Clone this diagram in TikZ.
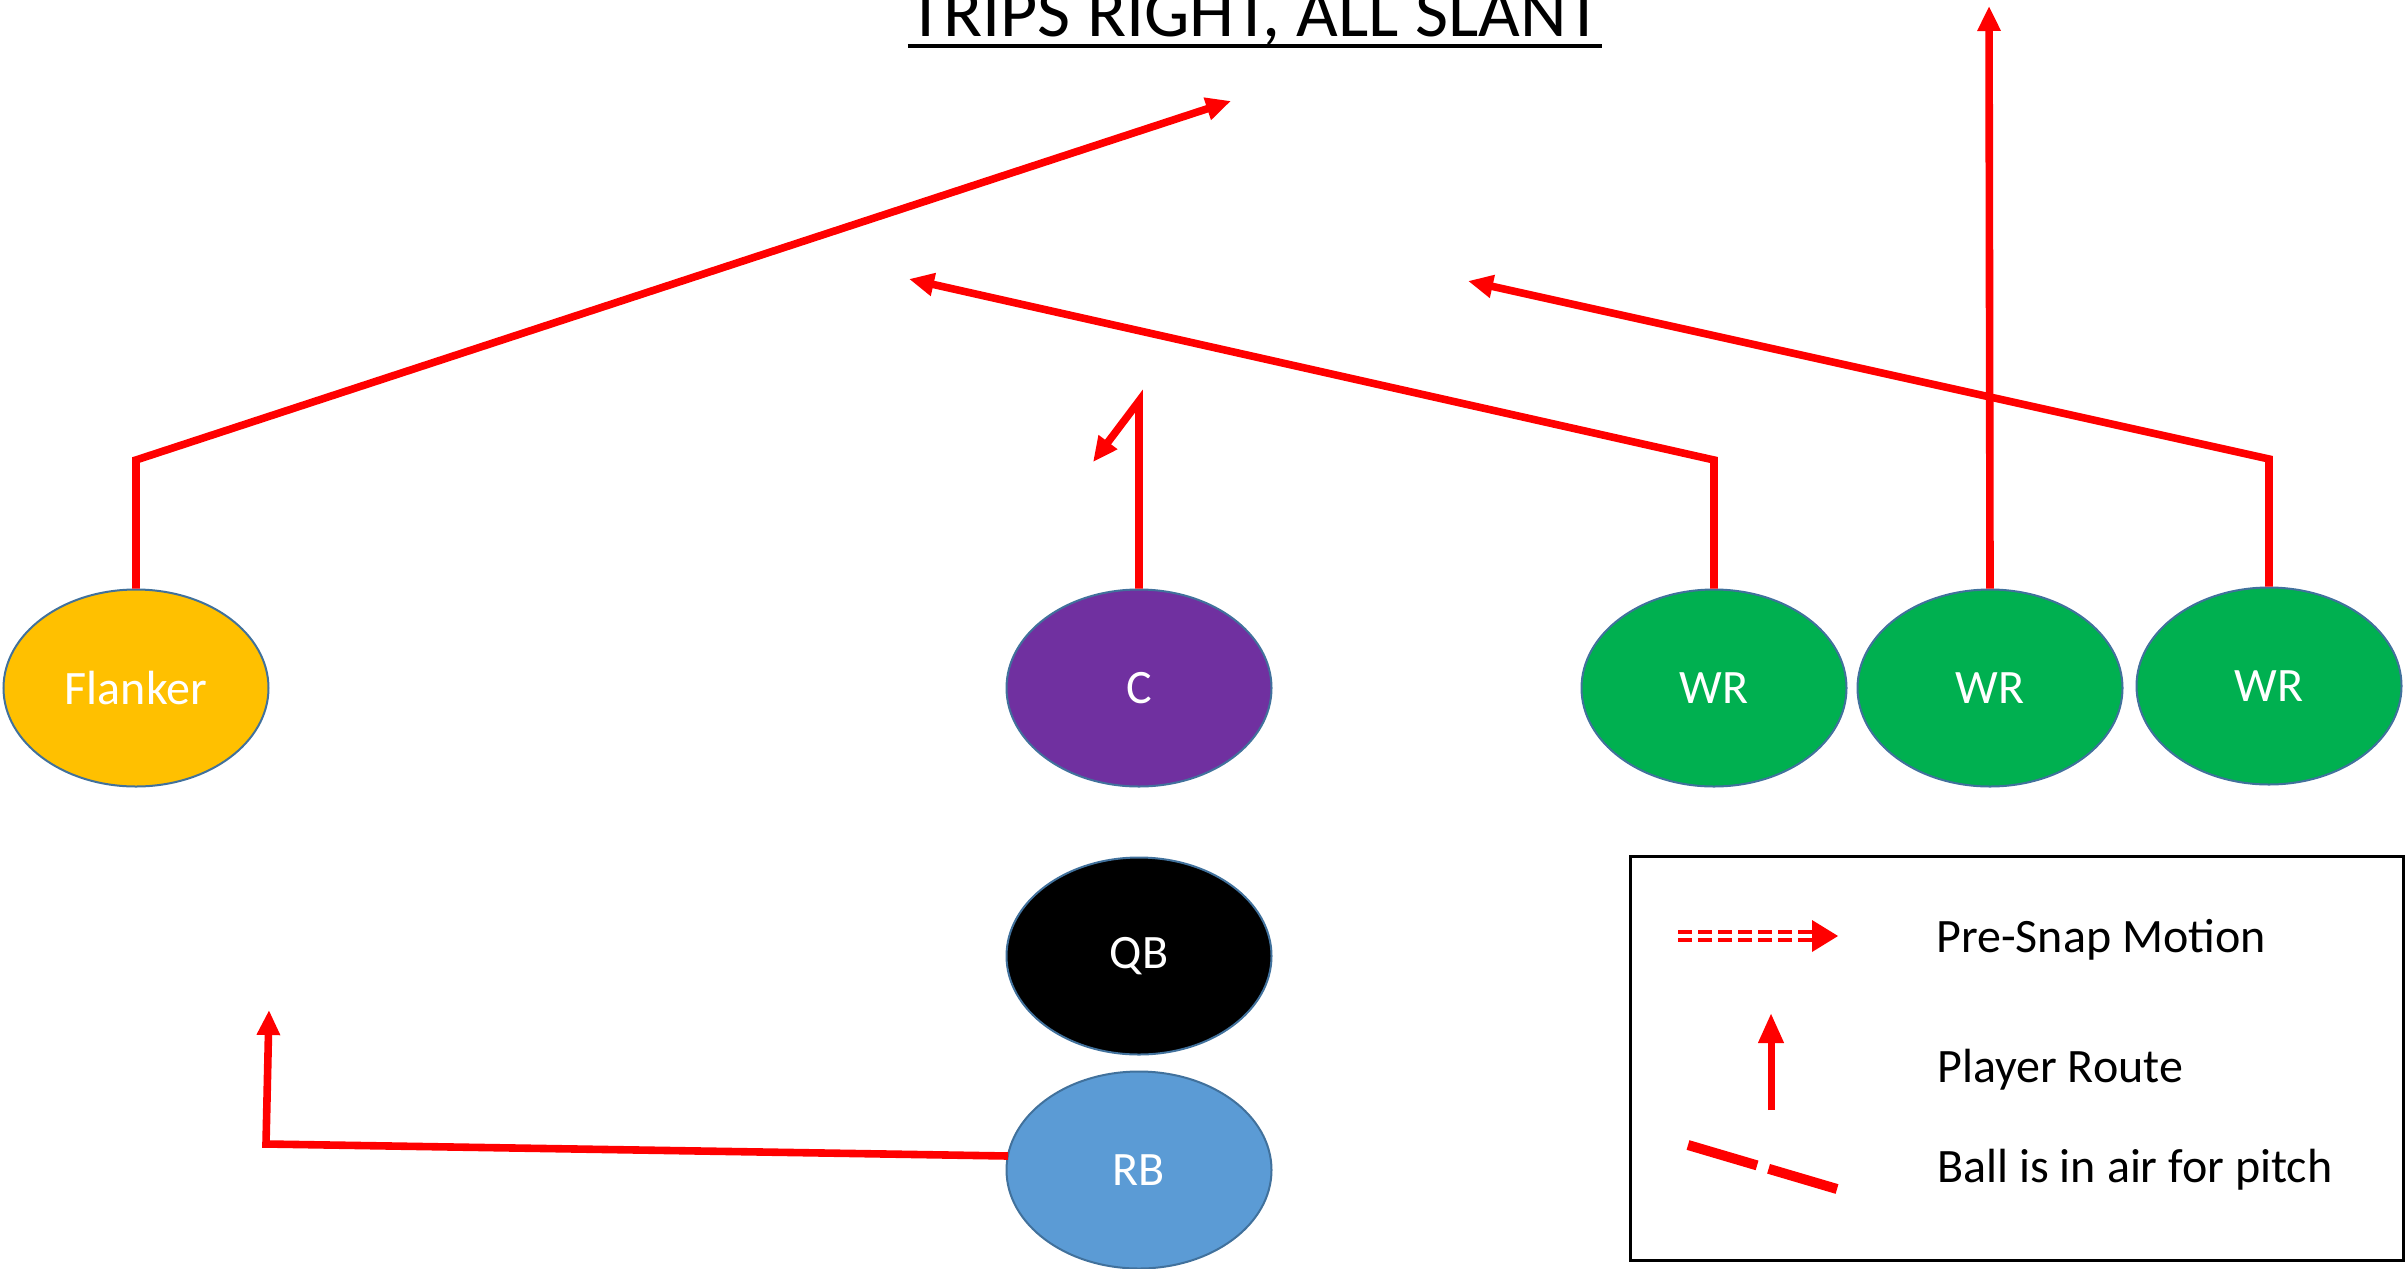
\documentclass[tikz,border=0pt]{standalone}
\usepackage{fontspec}
\setmainfont{Carlito}
\usetikzlibrary{arrows.meta,calc,shapes.geometric}
\definecolor{flank}{HTML}{FFC000}
\definecolor{cpurple}{HTML}{7030A0}
\definecolor{wrgreen}{HTML}{00B050}
\definecolor{rbblue}{HTML}{5B9BD5}
\definecolor{edgeblue}{HTML}{41719C}
\definecolor{routered}{HTML}{FF0000}
\tikzset{
  player/.style={ellipse, draw=edgeblue, line width=1pt, minimum width=132.5pt,
    minimum height=98.5pt, inner sep=0pt, text=white, font=\fontsize{24}{28}\selectfont},
  route/.style={draw=routered, line width=3.8pt, -{Triangle[length=12.5pt,width=11pt]}},
  legtext/.style={anchor=base west, inner sep=0pt, font=\fontsize{24}{28}\selectfont},
}
\begin{document}
\begin{tikzpicture}[x=0.5pt,y=-0.5pt]
\useasboundingbox (0,0) rectangle (2407,1268);
% title
\node[anchor=base, inner sep=0pt, font=\fontsize{36}{40}\selectfont] (title) at (1255,37) {TRIPS RIGHT, ALL SLANT};
\draw[line width=2pt] ([yshift=-4.5pt]title.base west) -- ([yshift=-4.5pt]title.base east);
% players
\node[player, fill=flank] (fl) at (136,688) {Flanker};
\node[player, fill=cpurple] (c) at (1139,688) {C};
\node[player, fill=wrgreen] (wr1) at (1714,688) {WR};
\node[player, fill=wrgreen] (wr2) at (1990,688) {WR};
\node[player, fill=wrgreen] (wr3) at (2269,686) {WR};
\node[player, fill=black] (qb) at (1139,956) {QB};
\node[player, fill=rbblue] (rb) at (1139,1170) {RB};
% route coordinates
\coordinate (flb) at (136,460);
\coordinate (fle) at (1231,101);
\coordinate (cb) at (1139,401);
\coordinate (ce) at (1093,462);
\coordinate (w1b) at (1714,460);
\coordinate (w1e) at (909,279);
\coordinate (w2e) at (1989,6);
\coordinate (w3b) at (2269,459);
\coordinate (w3e) at (1468,281);
\coordinate (rbs) at (1008,1156);
\coordinate (rbb) at (266,1144);
\coordinate (rbe) at (269,1010);
% routes
\draw[route] (fl.north) -- (flb) -- (fle);
\draw[route] (c.north) -- (cb) -- (ce);
\draw[route] (wr1.north) -- (w1b) -- (w1e);
\draw[route] (wr2.north) -- (w2e);
\draw[route] (wr3.north) -- (w3b) -- (w3e);
\draw[route] (rbs) -- (rbb) -- (rbe);
% legend
\node[draw=black, line width=1.5pt, minimum width=386.5pt, minimum height=202pt,
  inner sep=0pt, anchor=north west] (legend) at (1629,855) {};
\node[legtext] (l1) at (1936,952) {Pre-Snap Motion};
\node[legtext] (l2) at (1937,1082) {Player Route};
\node[legtext] (l3) at (1937,1182) {Ball is in air for pitch};
% pre-snap symbol
\coordinate (psa) at (1678,932);
\coordinate (psb) at (1818,932);
\coordinate (psc) at (1678,940);
\coordinate (psd) at (1818,940);
\draw[routered, line width=1.6pt, dash pattern=on 7pt off 3pt] (psa) -- (psb);
\draw[routered, line width=1.6pt, dash pattern=on 7pt off 3pt] (psc) -- (psd);
\fill[routered] (1812,920) -- (1838,936) -- (1812,952) -- cycle;
% player route symbol
\coordinate (pra) at (1771,1110);
\coordinate (prb) at (1771,1013);
\draw[routered, line width=3.5pt, -{Triangle[length=15pt,width=12pt]}] (pra) -- (prb);
% ball in air symbol
\coordinate (baa) at (1688,1145);
\coordinate (bab) at (1837,1189);
\draw[routered, line width=5pt, dash pattern=on 36pt off 6pt] (baa) -- (bab);
\end{tikzpicture}
\end{document}
